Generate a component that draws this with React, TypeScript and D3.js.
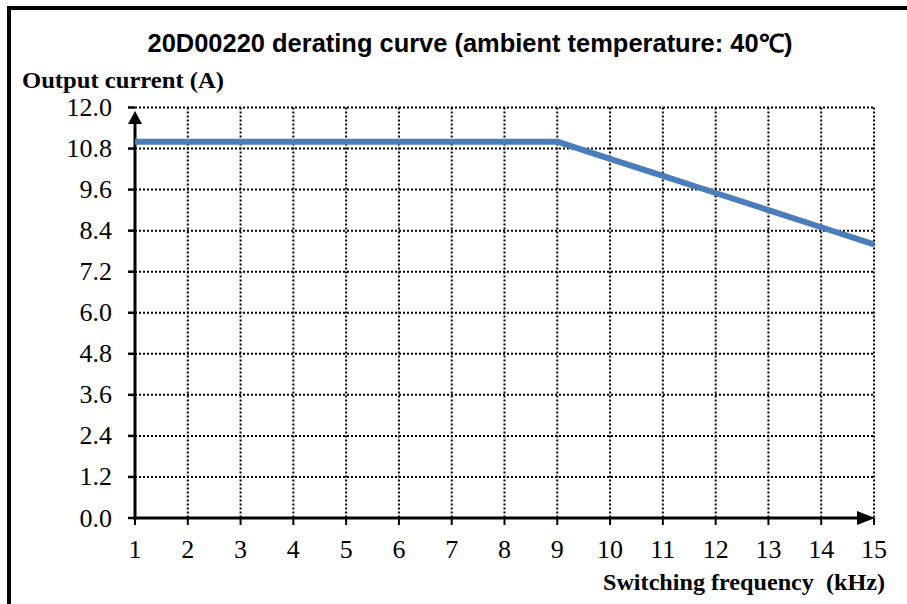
import React from "react";
import * as d3 from "d3";

const freqTicks = [1, 2, 3, 4, 5, 6, 7, 8, 9, 10, 11, 12, 13, 14, 15];
const currentTicks = [0, 1.2, 2.4, 3.6, 4.8, 6.0, 7.2, 8.4, 9.6, 10.8, 12.0];
const curveFreq = [1, 9, 10, 11, 12, 13, 14, 15];
const curveCurrent = [11, 11, 10.5, 10.0, 9.5, 9.0, 8.5, 8.0];

const W = 907;
const H = 604;
const left = 135;
const right = 874;
const top = 107.5;
const bottom = 518;

export default function App() {
  const x = d3.scaleLinear().domain([1, 15]).range([left, right]);
  const y = d3.scaleLinear().domain([0, 12]).range([bottom, top]);
  const line = d3
    .line<number>()
    .x((_, i) => x(curveFreq[i]))
    .y((d) => y(d));
  const path = line(curveCurrent) || "";
  const serif = "'Liberation Serif', 'Times New Roman', serif";
  return (
    <svg
      width={W}
      height={H}
      style={{ position: "absolute", left: 0, top: 0, background: "#fff" }}
    >
      <rect x={0} y={0} width={W} height={H} fill="#fff" />
      {/* frame */}
      <line x1={7} y1={8} x2={W} y2={8} stroke="#000" strokeWidth={4} />
      <line x1={9} y1={6} x2={9} y2={H} stroke="#000" strokeWidth={4} />
      {/* title */}
      <text
        x={470}
        y={52}
        textAnchor="middle"
        fontFamily="'Liberation Sans', Arial, sans-serif"
        fontWeight="bold"
        fontSize={25}
        textLength={645}
        lengthAdjust="spacingAndGlyphs"
      >
        20D00220 derating curve (ambient temperature: 40℃)
      </text>
      <text
        x={22}
        y={88}
        fontFamily={serif}
        fontWeight="bold"
        fontSize={24}
        textLength={202}
        lengthAdjust="spacingAndGlyphs"
      >
        Output current (A)
      </text>
      <text
        x={885}
        y={590}
        textAnchor="end"
        fontFamily={serif}
        fontWeight="bold"
        fontSize={24}
        textLength={282}
        lengthAdjust="spacingAndGlyphs"
      >
        {"Switching frequency\u00a0\u00a0(kHz)"}
      </text>
      {/* grid */}
      {currentTicks.slice(1).map((v) => (
        <line
          key={"h" + v}
          x1={left}
          x2={right}
          y1={y(v)}
          y2={y(v)}
          stroke="#000"
          strokeWidth={2}
          strokeDasharray="2,2"
        />
      ))}
      {freqTicks.slice(1).map((v) => (
        <line
          key={"v" + v}
          x1={x(v)}
          x2={x(v)}
          y1={top}
          y2={bottom}
          stroke="#000"
          strokeWidth={2}
          strokeDasharray="2,2"
        />
      ))}
      {/* ticks */}
      {currentTicks.map((v) => (
        <g key={"yt" + v}>
          <line x1={left - 7} x2={left} y1={y(v)} y2={y(v)} stroke="#000" strokeWidth={2.5} />
          <text
            x={112}
            y={y(v) + 8.5}
            textAnchor="end"
            fontFamily={serif}
            fontSize={26}
          >
            {v.toFixed(1)}
          </text>
        </g>
      ))}
      {freqTicks.map((v) => (
        <g key={"xt" + v}>
          <line x1={x(v)} x2={x(v)} y1={bottom} y2={bottom + 7} stroke="#000" strokeWidth={2} />
          <text
            x={x(v)}
            y={558}
            textAnchor="middle"
            fontFamily={serif}
            fontSize={26}
          >
            {v}
          </text>
        </g>
      ))}
      {/* axes */}
      <line x1={left} x2={left} y1={bottom + 1.5} y2={120} stroke="#000" strokeWidth={3} />
      <path d={`M${left},${111} L${left - 7},${124} L${left + 7},${124} Z`} fill="#000" />
      <line x1={left - 1.5} x2={860} y1={bottom} y2={bottom} stroke="#000" strokeWidth={3} />
      <path d={`M${right + 1},${bottom} L${857},${bottom - 7} L${857},${bottom + 7} Z`} fill="#000" />
      {/* curve */}
      <path
        d={path}
        fill="none"
        stroke="#4a7ebb"
        strokeWidth={6}
        strokeLinejoin="round"
      />
    </svg>
  );
}
